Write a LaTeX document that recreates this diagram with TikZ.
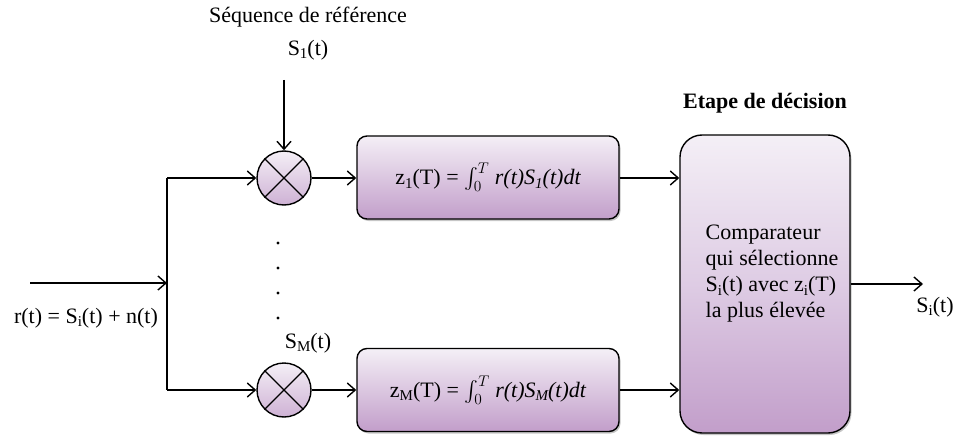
\documentclass[tikz,border=0pt]{standalone}
\usepackage{fix-cm}
\usepackage{amsmath}
\usepackage{fontspec}
\setmainfont{Liberation Serif}
\usetikzlibrary{arrows.meta,shadows}
\definecolor{lavtop}{RGB}{244,239,246}
\definecolor{lavmid}{RGB}{222,204,228}
\definecolor{lavbot}{RGB}{194,158,202}
\newcommand\sbs[1]{\raisebox{-0.35ex}{\fontsize{15}{15}\selectfont #1}}
\newcommand\fz{\fontsize{22}{26}\selectfont}
\begin{document}
\begin{tikzpicture}[x=1pt,y=-1pt,line width=1.4pt,
  arr/.style={-{Straight Barb[length=8pt,width=14pt,line width=1.4pt]}},
  lbl/.style={font=\fz,inner sep=0pt},
  mixer/.style={circle,draw,minimum size=54pt,inner sep=0pt,top color=lavtop,bottom color=lavbot!80},
  intbox/.style={draw,rounded corners=10pt,minimum width=262pt,minimum height=83pt,
    top color=lavtop,bottom color=lavbot,font=\fz,
    drop shadow={shadow xshift=1.5pt,shadow yshift=-2pt,opacity=0.45}},
  decbox/.style={draw,rounded corners=22pt,minimum width=170pt,minimum height=298pt,
    top color=lavtop,bottom color=lavbot,middle color=lavmid,
    drop shadow={shadow xshift=1.5pt,shadow yshift=-2pt,opacity=0.45}}]
\useasboundingbox (0,0) rectangle (953,436);

\node[lbl] (ref) at (308,17) {Séquence de référence};
\node[lbl] (s1) at (308,50) {S\sbs{1}(t)};
\coordinate (s1top) at (284,80);

\node[mixer] (m1) at (284,178) {};
\node[mixer] (m2) at (284,390) {};
\draw (m1.north east) -- (m1.south west) (m1.north west) -- (m1.south east);
\draw (m2.north east) -- (m2.south west) (m2.north west) -- (m2.south east);

\node[intbox] (b1) at (488,177.5) {z\sbs{1}(T) = $\int_0^{T}$ {\itshape r(t)S\sbs{1}(t)dt}};
\node[intbox] (b2) at (488,390) {z\sbs{M}(T) = $\int_0^{T}$ {\itshape r(t)S\sbs{M}(t)dt}};

\node[decbox] (dec) at (765,284) {};
\node[lbl,font=\fz\bfseries] (etape) at (765,103) {Etape de décision};
\node[lbl,align=left] (comp) at (772,274)
  {Comparateur\\qui sélectionne\\S\sbs{i}(t) avec z\sbs{i}(T)\\la plus élevée};

\coordinate (in) at (30,283);
\coordinate (j) at (167,283);
\coordinate (jtop) at (167,178);
\coordinate (jbot) at (167,390);
\node[lbl] (rin) at (86,318) {r(t) = S\sbs{i}(t) + n(t)};

\foreach \yy in {243,268,293,318} \fill (278,\yy) circle (1.6pt);
\node[lbl] (sm) at (308,343) {S\sbs{M}(t)};

\coordinate (out) at (923,284);
\node[lbl] (si) at (935,307) {S\sbs{i}(t)};

\draw[arr] (s1top) -- (m1.north);
\draw[arr] (in) -- (j);
\draw (jtop) -- (jbot);
\draw[arr] (jtop) -- (m1.west);
\draw[arr] (jbot) -- (m2.west);
\draw[arr] (m1.east) -- (b1.west |- m1.east);
\draw[arr] (m2.east) -- (b2.west |- m2.east);
\draw[arr] (b1.east |- m1.east) -- (dec.west |- m1.east);
\draw[arr] (b2.east |- m2.east) -- (dec.west |- m2.east);
\draw[arr] (dec.east |- out) -- (out);
\end{tikzpicture}
\end{document}
